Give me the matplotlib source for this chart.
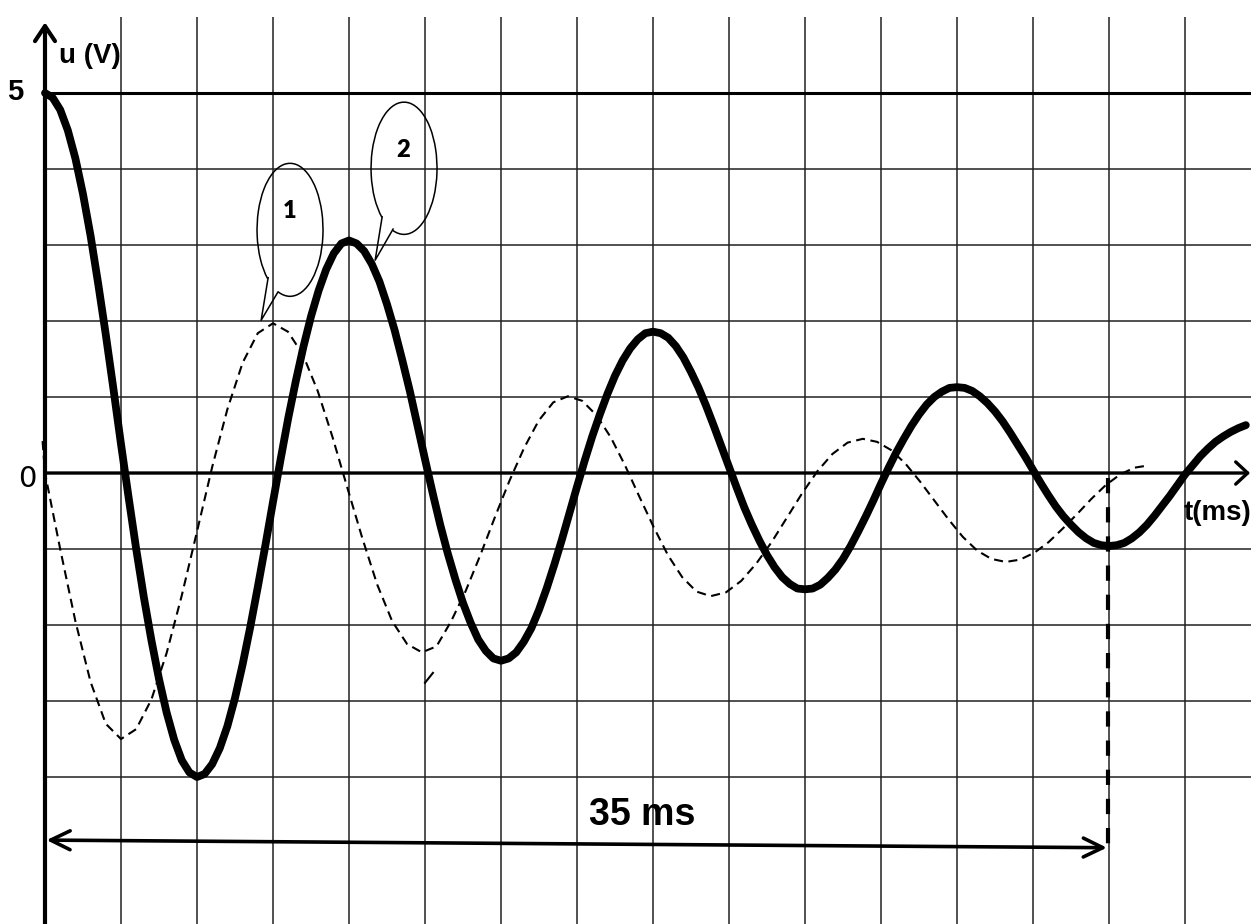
import numpy as np
import matplotlib.pyplot as plt
from matplotlib.patches import Arc

plt.rcParams['lines.scale_dashes'] = False

# courbe 2 (trait epais), valeurs relevees tous les 0.25 ms
t2 = np.arange(0, 39.6, 0.25)
u2 = [5.00, 4.94, 4.78, 4.51, 4.14, 3.67, 3.12, 2.49, 1.82, 1.11, 0.38,
      -0.32, -1.00, -1.63, -2.20, -2.71, -3.15, -3.51, -3.78, -3.94, -4.00,
      -3.96, -3.83, -3.62, -3.33, -2.96, -2.52, -2.03, -1.50, -0.95, -0.38,
      0.18, 0.72, 1.21, 1.66, 2.06, 2.40, 2.68, 2.89, 3.02, 3.06,
      3.02, 2.92, 2.75, 2.52, 2.22, 1.88, 1.49, 1.08, 0.63, 0.18,
      -0.26, -0.68, -1.06, -1.40, -1.71, -1.97, -2.19, -2.34, -2.44, -2.47,
      -2.44, -2.36, -2.22, -2.04, -1.80, -1.52, -1.21, -0.88, -0.53, -0.18,
      0.16, 0.48, 0.77, 1.04, 1.28, 1.48, 1.64, 1.76, 1.84, 1.86,
      1.84, 1.78, 1.67, 1.52, 1.33, 1.12, 0.88, 0.62, 0.35, 0.08,
      -0.19, -0.45, -0.68, -0.89, -1.08, -1.24, -1.37, -1.46, -1.52, -1.53,
      -1.52, -1.47, -1.38, -1.27, -1.13, -0.96, -0.77, -0.57, -0.36, -0.14,
      0.07, 0.27, 0.45, 0.62, 0.77, 0.90, 1.00, 1.07, 1.12, 1.13,
      1.12, 1.08, 1.01, 0.92, 0.81, 0.68, 0.53, 0.37, 0.21, 0.04,
      -0.13, -0.29, -0.44, -0.57, -0.68, -0.78, -0.86, -0.92, -0.95, -0.96,
      -0.95, -0.92, -0.86, -0.78, -0.68, -0.56, -0.43, -0.30, -0.16, -0.02,
      0.10, 0.22, 0.32, 0.41, 0.48, 0.54, 0.59, 0.63]

# courbe 1 (pointilles)
t1 = [-0.08, 0.0, 0.5, 1.0, 1.5, 2.0, 2.5, 3.0, 3.5, 4.0, 4.5, 5.0, 5.5, 6.0,
      6.5, 7.0, 7.5, 7.99, 8.48, 8.97, 9.46, 9.95, 10.44, 10.93, 11.42,
      11.91, 12.4, 12.88, 13.36, 13.84, 14.32, 14.8, 15.28, 15.76, 16.24,
      16.72, 17.2, 17.67, 18.14, 18.61, 19.08, 19.55, 20.02, 20.49, 20.96,
      21.43, 21.9, 22.4, 22.9, 23.4, 23.9, 24.4, 24.9, 25.4, 25.9, 26.4,
      26.9, 27.37, 27.84, 28.31, 28.78, 29.25, 29.72, 30.19, 30.66, 31.13,
      31.6, 32.07, 32.54, 33.01, 33.48, 33.95, 34.42, 34.89, 35.36, 35.83,
      36.3]
u1 = [0.42, 0.0, -1.00, -1.95, -2.75, -3.30, -3.50,
      -3.37, -2.98, -2.37, -1.61, -0.77, 0.08, 0.84, 1.45, 1.84, 1.97,
      1.86, 1.56, 1.08, 0.47, -0.20, -0.86, -1.47, -1.95, -2.25, -2.36,
      -2.28, -1.95, -1.55, -1.08, -0.58, -0.10, 0.33, 0.69, 0.93, 1.01,
      0.95, 0.76, 0.47, 0.10, -0.31, -0.71, -1.08, -1.37, -1.56, -1.62,
      -1.57, -1.42, -1.19, -0.91, -0.59, -0.27, 0.02, 0.25, 0.40, 0.45,
      0.41, 0.30, 0.12, -0.11, -0.36, -0.61, -0.84, -1.02, -1.13, -1.17,
      -1.14, -1.05, -0.91, -0.73, -0.54, -0.34, -0.16, -0.02, 0.07, 0.10]

# petit trait isole sous le minimum a 12.5 ms
t1_bout = [12.5, 12.76]
u1_bout = [-2.76, -2.63]

# quadrillage : 1 carreau = 2.5 ms et 1 V
t_grille = [2.5, 5, 7.5, 10, 12.5, 15, 17.5, 20, 22.5, 25, 27.5, 30, 32.5, 35, 37.5]
u_grille = [-4, -3, -2, -1, 1, 2, 3, 4]

# mesure de la duree
t_mesure = 35.0

# bulles : centre, largeur, hauteur, base1, pointe, base2, texte
bulles = [
    ((8.06, 3.20), 2.17, 1.75, (7.34, 2.57), (7.11, 2.01), (7.66, 2.38), '1'),
    ((11.81, 4.01), 2.17, 1.74, (11.09, 3.37), (10.86, 2.80), (11.45, 3.21), '2'),
]

fig = plt.figure(figsize=(12.51, 9.24), dpi=100)
ax = fig.add_axes([0, 0, 1, 1])
ax.set_xlim(-1.48, 39.67)
ax.set_ylim(-5.934, 6.224)
ax.axis('off')

# quadrillage
ax.vlines(t_grille, -6.5, 6.0, color='#222222', lw=1.1, zorder=1)
ax.hlines(u_grille, 0, 41, color='#222222', lw=1.1, zorder=1)
ax.hlines([5], 0, 41, color='black', lw=2.2, zorder=1)

# axes avec fleches
ax.annotate('', xy=(0, 5.93), xytext=(0, -6.5),
            arrowprops=dict(arrowstyle='->, head_length=1.08, head_width=0.72',
                            lw=3, color='black', shrinkA=0, shrinkB=0,
                            mutation_scale=10), zorder=5)
ax.annotate('', xy=(39.64, 0), xytext=(0, 0),
            arrowprops=dict(arrowstyle='->, head_length=0.86, head_width=0.8',
                            lw=2.4, color='black', shrinkA=0, shrinkB=0,
                            mutation_scale=10), zorder=5)

# courbes
ax.plot(t1, u1, color='black', lw=1.5, dashes=(6.5, 4), zorder=2)
ax.plot(t1_bout, u1_bout, color='black', lw=1.5, zorder=2)
ax.plot(t2, u2, color='black', lw=5.6, solid_capstyle='round',
        solid_joinstyle='round', zorder=3)

# mesure 35 ms
ax.plot([t_mesure - 0.03, t_mesure - 0.03], [-0.07, -4.93], color='black',
        lw=3, dashes=(11, 10), zorder=4)
ax.annotate('', xy=(t_mesure - 0.07, -4.93), xytext=(0.05, -4.83),
            arrowprops=dict(arrowstyle='<->, head_length=1.4, head_width=0.68',
                            lw=2.6, color='black', shrinkA=0, shrinkB=0,
                            mutation_scale=10), zorder=5)

# bulles
for c, w, h, b1, p, b2, txt in bulles:
    a1 = np.degrees(np.arctan2(b1[1] - c[1], b1[0] - c[0]))
    a2 = np.degrees(np.arctan2(b2[1] - c[1], b2[0] - c[0]))
    ax.add_patch(Arc(c, w, h, theta1=a2, theta2=a1, color='black', lw=1.1, zorder=6))
    ax.plot([b1[0], p[0], b2[0]], [b1[1], p[1], b2[1]], color='black', lw=1.1, zorder=6)
    ax.text(c[0] - 0.03, c[1] + 0.15, txt, fontsize=17, fontweight='heavy',
            family=['Lato', 'DejaVu Sans'], ha='center', va='baseline', zorder=7)

# textes
gras = dict(fontweight='bold', family=['Liberation Sans', 'DejaVu Sans'])
ax.text(-0.97, 4.91, '5', fontsize=21, ha='center', va='baseline', **gras)
ax.text(0.46, 5.39, 'u (V)', fontsize=20, ha='left', va='baseline', **gras)
ax.text(-0.58, -0.18, '0', fontsize=21, ha='center', va='baseline',
        family=['DejaVu Sans'])
ax.text(37.45, -0.62, 't(ms)', fontsize=20, ha='left', va='baseline', **gras)
ax.text(19.64, -4.63, '35 ms', fontsize=27, ha='center', va='baseline', **gras)

fig.savefig('out.png', dpi=100)
